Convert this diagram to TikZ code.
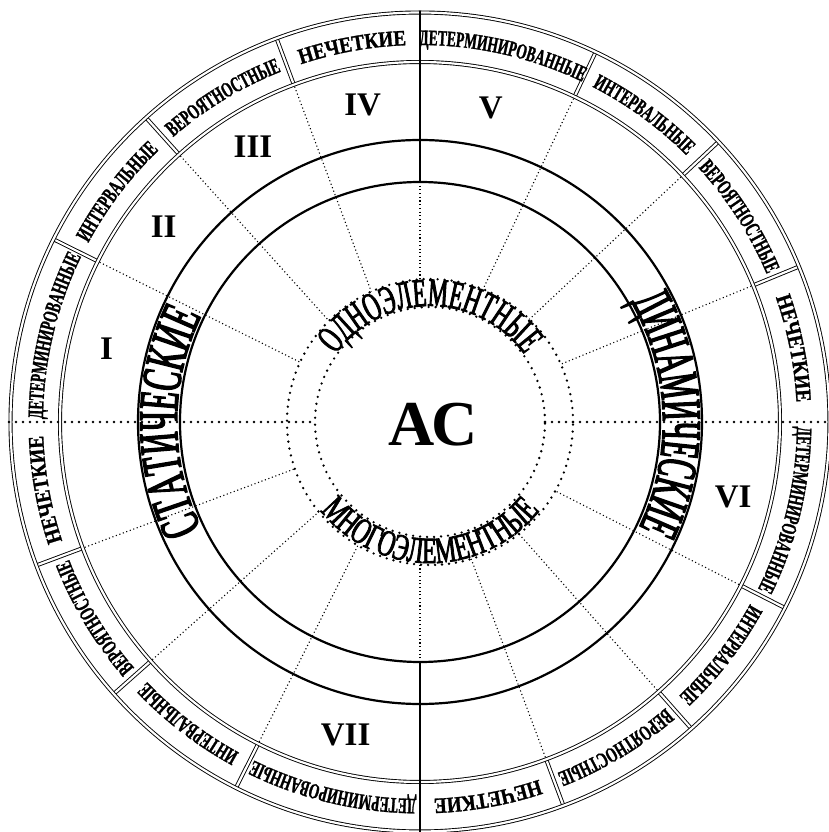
\documentclass[tikz,border=0pt]{standalone}
\usepackage{fontspec}
\setmainfont{Liberation Serif}
\newfontfamily\lblwide{Liberation Serif}[UprightFont=* Bold, FakeStretch=0.86, FakeBold=1.2]
\newfontfamily\lblnarrow{Liberation Serif}[UprightFont=* Bold, FakeStretch=0.61, FakeBold=1.2]
\newfontfamily\arcfontS{Liberation Serif}[FakeStretch=0.54, FakeBold=2.5]
\newfontfamily\arcfontD{Liberation Serif}[FakeStretch=0.50, FakeBold=2.5]
\newfontfamily\ringfont{Liberation Serif}[FakeStretch=0.56, FakeBold=2.2]
\newfontfamily\ringfontB{Liberation Serif}[FakeStretch=0.64, FakeBold=2.2]
\usetikzlibrary{calc,decorations.text}

\begin{document}
\begin{tikzpicture}[x=1pt, y=1pt,
    dbl/.style={draw, line width=0.9pt, double, double distance=2.2pt},
    mainline/.style={line width=2.2pt},
    thindots/.style={line width=1.1pt, dash pattern=on 1.1pt off 2.6pt},
    bigdots/.style={line width=2.6pt, line cap=round, dash pattern=on 0pt off 7pt},
    numeral/.style={font=\fontsize{33}{33}\selectfont\bfseries},
    arctext/.style={decorate, decoration={text along path, text align=center, text={#1}}}
]
    \useasboundingbox (-420,-410) rectangle (408,422);
    \coordinate (o) at (0,0);
    \coordinate (dc) at (10,0);

    % --- outer band: separators and labels ---
    \foreach \q/\ba/\bb/\bc in {0/22.3/43.2/64.6, 90/20.5/42/63.5, 180/20.5/41.6/63.3, 270/20.5/41.5/63} {
        \foreach \b in {\ba,\bb,\bc} {
            \draw[dbl] ({\q+\b}:359) -- ({\q+\b}:410);
            \draw[thindots] ({\q+\b}:358) -- ({\q+\b}:{10*cos(\q+\b)+143*sqrt(1-0.00489*sin(\q+\b)^2)});
        }
        \path[arctext={|\lblwide\fontsize{22}{22}\selectfont|НЕЧЕТКИЕ}]
            ({\q+\ba}:377) arc[start angle={\q+\ba}, end angle=\q, radius=377];
        \path[arctext={|\lblnarrow\fontsize{22}{22}\selectfont|ВЕРОЯТНОСТНЫЕ}]
            ({\q+\bb}:377) arc[start angle={\q+\bb}, end angle={\q+\ba}, radius=377];
        \path[arctext={|\lblnarrow\fontsize{22}{22}\selectfont|ИНТЕРВАЛЬНЫЕ}]
            ({\q+\bc}:377) arc[start angle={\q+\bc}, end angle={\q+\bb}, radius=377];
        \path[arctext={|\lblnarrow\fontsize{22}{22}\selectfont|ДЕТЕРМИНИРОВАННЫЕ}]
            ({\q+90}:377) arc[start angle={\q+90}, end angle={\q+\bc}, radius=377];
    }

    % --- circles ---
    \draw[dbl] (o) circle[radius=409.5];
    \draw[dbl] (o) circle[radius=360];
    \draw[mainline] (o) circle[radius=282];
    \draw[mainline] (o) circle[radius=240];
    \draw[bigdots] (dc) circle[radius=143];
    \draw[bigdots] (dc) circle[radius=115];

    % --- axes ---
    \draw[mainline] (90:240) -- (90:411);
    \draw[mainline] (270:240) -- (270:411);
    \draw[thindots] (90:240) -- (0,142.6);
    \draw[thindots] (270:240) -- (0,-142.6);
    \draw[bigdots] (-411,0) -- (-105,0);
    \draw[bigdots] (125,0) -- (411,0);

    % --- big arc captions ---
    \path[arctext={|\arcfontS\fontsize{56}{56}\selectfont|СТАТИЧЕСКИЕ}]
        (215:243) arc[start angle=215, end angle=145, radius=243];
    \path[arctext={|\arcfontD\fontsize{56}{56}\selectfont|ДИНАМИЧЕСКИЕ}]
        (37:243) arc[start angle=37, end angle=-33, radius=243];
    \path[arctext={|\ringfont\fontsize{40}{40}\selectfont|ОДНОЭЛЕМЕНТНЫЕ}]
        ($(dc)+(160:116)$) arc[start angle=160, end angle=20, radius=116];
    \path[arctext={|\ringfontB\fontsize{37}{37}\selectfont|МНОГОЭЛЕМЕНТНЫЕ}]
        ($(dc)+(200:141)$) arc[start angle=200, end angle=340, radius=141];

    % --- numerals and centre ---
    \node[numeral] (n1) at (166.75:322) {I};
    \node[numeral] (n2) at (142.75:322) {II};
    \node[numeral] (n3) at (121.25:322) {III};
    \node[numeral] (n4) at (100.25:322) {IV};
    \node[numeral] (n5) at (77.3:322) {V};
    \node[numeral] (n6) at (346.5:322) {VI};
    \node[numeral] (n7) at (256.65:322) {VII};
    \node[font=\fontsize{64}{64}\selectfont\bfseries] (ac) at (13,-3) {АС};
\end{tikzpicture}
\end{document}
